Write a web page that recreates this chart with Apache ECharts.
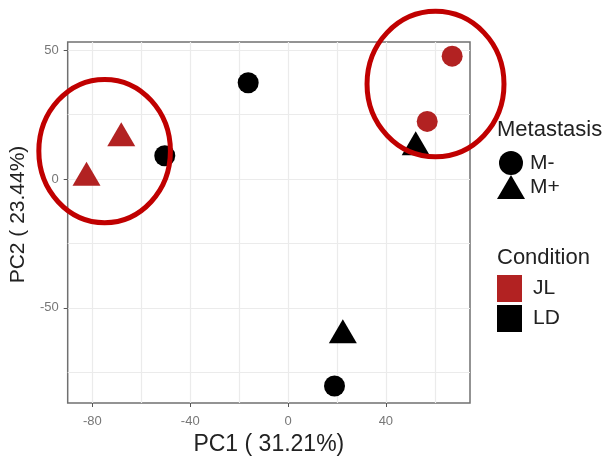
<!DOCTYPE html>
<html><head><meta charset="utf-8">
<script src="https://cdn.jsdelivr.net/npm/echarts@6/dist/echarts.min.js"></script>
<style>html,body{margin:0;padding:0;background:#fff}#c{width:614px;height:466px}</style>
</head><body><div id="c"></div>
<script>
// PCA scores per sample
const pc1 = [-82.4, -68.2, -50.4, -16.3, 67.1, 56.9, 52.2, 22.4, 19.0];
const pc2 = [0.5, 15.8, 9.0, 37.3, 47.6, 22.3, 12.3, -60.6, -80.3];
const metastasis = ['M+', 'M+', 'M-', 'M-', 'M-', 'M-', 'M+', 'M+', 'M-'];
const condition = ['JL', 'JL', 'LD', 'LD', 'JL', 'JL', 'LD', 'LD', 'LD'];
const metastasisLevels = ['M-', 'M+'];
const conditionLevels = ['JL', 'LD'];
const conditionColors = { JL: '#B22222', LD: '#000000' };
// axis ticks
const xMajor = [-80, -40, 0, 40];
const xMinor = [-60, -20, 20, 60];
const yMajor = [-50, 0, 50];
const yMinor = [-75, -25, 25];
const xRange = [-90.1, 74.4];
const yRange = [-86.9, 53.1];
// highlight ellipses (data units)
const ellCx = [-75, 60.3];
const ellCy = [10.8, 36.8];
const ellRx = [26.9, 28.0];
const ellRy = [27.8, 28.2];

const FONT = 'Liberation Sans, Arial, sans-serif';
const chart = echarts.init(document.getElementById('c'), null, { renderer: 'canvas' });

function pts(level) {
  const out = [];
  for (let i = 0; i < pc1.length; i++) {
    if (metastasis[i] === level) {
      out.push({ value: [pc1[i], pc2[i]], itemStyle: { color: conditionColors[condition[i]] } });
    }
  }
  return out;
}

const gridLine = { show: true, lineStyle: { color: '#ebebeb', width: 1.2 } };

const option = {
  backgroundColor: '#fff',
  animation: false,
  title: [
    { text: 'Metastasis', left: 492, top: 114, textStyle: { fontFamily: FONT, fontSize: 22, fontWeight: 'normal', color: '#222' } },
    { text: 'Condition', left: 492, top: 242, textStyle: { fontFamily: FONT, fontSize: 22, fontWeight: 'normal', color: '#222' } }
  ],
  grid: { left: 67, right: 144, top: 42, bottom: 63, show: true, borderColor: '#707070', borderWidth: 1.5, backgroundColor: 'transparent' },
  xAxis: [
    {
      type: 'value', min: xRange[0], max: xRange[1],
      name: 'PC1 ( 31.21%)', nameLocation: 'middle', nameGap: 27,
      nameTextStyle: { fontFamily: FONT, fontSize: 23, color: '#222' },
      axisLine: { show: false, onZero: false },
      axisTick: { show: true, length: 4, customValues: xMajor, lineStyle: { color: '#555', width: 1 } },
      axisLabel: { customValues: xMajor, fontFamily: FONT, fontSize: 13, color: '#777', margin: 12 },
      splitLine: gridLine
    },
    {
      type: 'value', min: xRange[0], max: xRange[1], position: 'top',
      axisLine: { show: false, onZero: false },
      axisTick: { show: false, customValues: xMinor },
      axisLabel: { show: false },
      splitLine: gridLine
    }
  ],
  yAxis: [
    {
      type: 'value', min: yRange[0], max: yRange[1],
      name: 'PC2 ( 23.44%)', nameLocation: 'middle', nameGap: 33,
      nameTextStyle: { fontFamily: FONT, fontSize: 21, color: '#222', padding: [0, 0, 0, 16] },
      axisLine: { show: false, onZero: false },
      axisTick: { show: true, length: 4, customValues: yMajor, lineStyle: { color: '#555', width: 1 } },
      axisLabel: { customValues: yMajor, fontFamily: FONT, fontSize: 13, color: '#777', margin: 9 },
      splitLine: gridLine
    },
    {
      type: 'value', min: yRange[0], max: yRange[1], position: 'right',
      axisLine: { show: false, onZero: false },
      axisTick: { show: false, customValues: yMinor },
      axisLabel: { show: false },
      splitLine: gridLine
    }
  ],
  legend: [
    {
      data: metastasisLevels.map(n => ({ name: n })),
      orient: 'vertical', left: 497, top: 151, padding: 0,
      itemWidth: 28, itemHeight: 24, itemGap: 0,
      selectedMode: false,
      textStyle: { fontFamily: FONT, fontSize: 21, color: '#222' }
    },
    {
      data: conditionLevels.map(n => ({ name: n, icon: 'rect' })),
      orient: 'vertical', left: 497, top: 275, padding: 0,
      itemWidth: 25, itemHeight: 27, itemGap: 3,
      selectedMode: false,
      textStyle: { fontFamily: FONT, fontSize: 21, color: '#222', padding: [0, 0, 0, 6] }
    }
  ],
  series: [
    { name: 'M-', type: 'scatter', symbol: 'circle', symbolSize: 21, itemStyle: { color: '#000', opacity: 1 }, data: pts('M-'), z: 3 },
    { name: 'M+', type: 'scatter', symbol: 'triangle', symbolSize: [28, 24], symbolOffset: [0, -4], itemStyle: { color: '#000', opacity: 1 }, data: pts('M+'), z: 3 },
    { name: 'JL', type: 'scatter', data: [], itemStyle: { color: conditionColors.JL, opacity: 1 } },
    { name: 'LD', type: 'scatter', data: [], itemStyle: { color: conditionColors.LD, opacity: 1 } }
  ]
};
chart.setOption(option);

const ells = [];
for (let k = 0; k < ellCx.length; k++) {
  const c = chart.convertToPixel({ gridIndex: 0 }, [ellCx[k], ellCy[k]]);
  const e = chart.convertToPixel({ gridIndex: 0 }, [ellCx[k] + ellRx[k], ellCy[k] + ellRy[k]]);
  ells.push({
    type: 'ellipse', z: 100,
    shape: { cx: c[0], cy: c[1], rx: Math.abs(e[0] - c[0]), ry: Math.abs(c[1] - e[1]) },
    style: { fill: null, stroke: '#C00000', lineWidth: 5 }
  });
}
chart.setOption({ graphic: ells });
</script></body></html>
